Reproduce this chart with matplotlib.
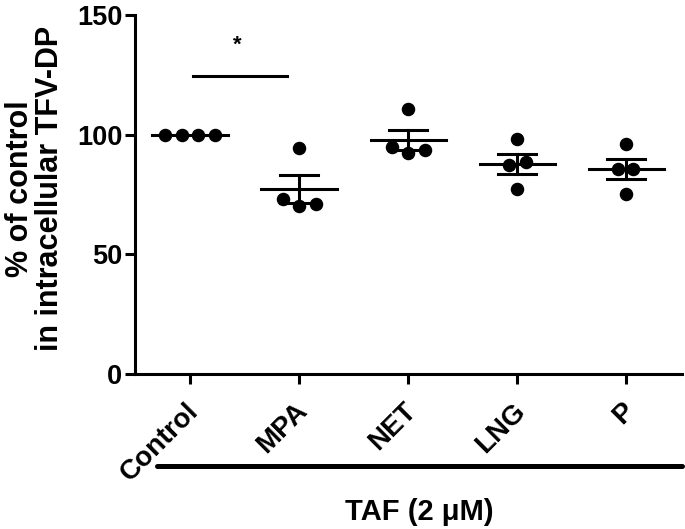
import matplotlib
matplotlib.use('Agg')
import matplotlib.pyplot as plt
import matplotlib.transforms as mtransforms
import numpy as np
from matplotlib.lines import Line2D

plt.rcParams['font.family'] = ['Liberation Sans', 'DejaVu Sans']
plt.rcParams['font.weight'] = 'bold'

# data (% of control)
groups = ['Control', 'MPA', 'NET', 'LNG', 'P']
control = [100, 100, 100, 100]
mpa = [94.3, 73.3, 70.4, 71.2]
net = [110.6, 94.7, 92.2, 93.4]
lng = [98.0, 87.5, 88.5, 77.5]
prog = [96.0, 85.5, 85.7, 75.4]
values = [control, mpa, net, lng, prog]

# horizontal scatter offsets of the dots (layout only)
jitter = [[-0.23, -0.075, 0.075, 0.23],
          [0.0, -0.15, 0.0, 0.155],
          [0.0, -0.15, 0.0, 0.155],
          [0.0, -0.075, 0.08, 0.0],
          [0.0, -0.075, 0.065, 0.0]]

fig = plt.figure(figsize=(6.85, 5.29), dpi=100)
ax = fig.add_axes([0.197, 0.293, 0.7986, 0.6786])

lw = 2.2
for i, vals in enumerate(values):
    vals = np.array(vals)
    xs = i + np.array(jitter[i])
    ax.plot(xs, vals, 'o', color='black', markersize=8.7, zorder=3, clip_on=False)
    m = vals.mean()
    sem = vals.std(ddof=1) / np.sqrt(len(vals))
    ax.plot([i - 0.345, i + 0.345], [m, m], color='black', lw=lw, zorder=4)
    if sem > 0:
        ax.plot([i, i], [m - sem, m + sem], color='black', lw=lw, zorder=4)
        for y in (m - sem, m + sem):
            ax.plot([i - 0.175, i + 0.175], [y, y], color='black', lw=lw, zorder=4)

# significance bar
ax.plot([0.03, 0.89], [124.4, 124.4], color='black', lw=lw, clip_on=False)
ax.text(0.43, 133, '*', ha='center', va='bottom', fontsize=16, fontweight='bold')

ax.set_xlim(-0.505, 4.51)
ax.set_ylim(0, 150)
ax.set_yticks([0, 50, 100, 150])
ax.set_xticks(range(len(groups)))
ax.set_xticklabels(groups, rotation=45, ha='right', va='top', rotation_mode='anchor')
ax.tick_params(axis='both', width=lw, length=7, pad=2)
ax.tick_params(axis='y', labelsize=19.5)
ax.tick_params(axis='x', labelsize=20, pad=6)
shift = mtransforms.ScaledTranslation(-5 / 100, -6 / 100, fig.dpi_scale_trans)
for lab in ax.get_xticklabels():
    lab.set_fontweight('bold')
    lab.set_transform(lab.get_transform() + shift)
for lab in ax.get_yticklabels():
    lab.set_fontweight('bold')

for s in ['top', 'right']:
    ax.spines[s].set_visible(False)
for s in ['left', 'bottom']:
    ax.spines[s].set_linewidth(lw)

# TAF group bar under the labels
ax.add_line(Line2D([0.04, 1.0], [-0.256, -0.256], transform=ax.transAxes,
                   color='black', lw=3.6, clip_on=False, solid_capstyle='round'))
ax.text(0.52, -0.384, 'TAF (2 μM)', transform=ax.transAxes, ha='center', va='center',
        fontsize=21, fontweight='bold')

fig.text(0.051, 0.643, '% of control\nin intracellular TFV-DP', rotation=90,
         ha='center', va='center', multialignment='center', fontsize=22,
         fontweight='bold', linespacing=1.0)

fig.savefig('out.png', dpi=100)
